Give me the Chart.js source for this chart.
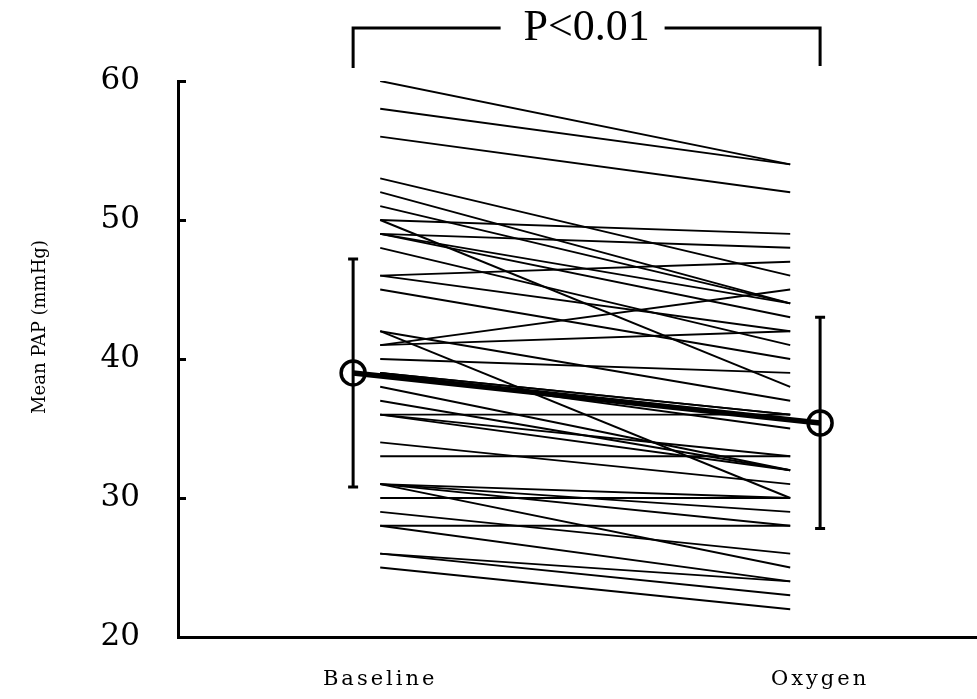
<!DOCTYPE html>
<html>
<head>
<meta charset="utf-8">
<script src="https://cdn.jsdelivr.net/npm/chart.js@4.4.1/dist/chart.umd.min.js"></script>
<style>
  body { margin: 0; background: #fff; }
  #wrap { width: 977px; height: 699px; }
</style>
</head>
<body>
<div id="wrap"><canvas id="pap" width="977" height="699"></canvas></div>
<script>
// categories / tick labels
const groupLabels = ["Baseline", "Oxygen"];
const yTicks = [20, 30, 40, 50, 60];
const pText = "P<0.01";
const yTitle = "Mean PAP (mmHg)";

// each patient: baseline -> oxygen (mmHg)
const baselinePAP = [60, 58, 56, 53, 52, 51, 50, 50, 49, 49, 49, 48, 46, 46, 45, 42, 42, 41, 41, 40, 39, 39, 39, 38, 37, 36, 36, 36, 34, 33, 31, 31, 31, 31, 30, 29, 28, 28, 26, 26, 25];
const oxygenPAP   = [54, 54, 52, 46, 44, 44, 49, 38, 48, 43, 44, 41, 47, 42, 40, 30, 37, 45, 42, 39, 36, 35, 36, 32, 32, 36, 33, 32, 31, 33, 30, 29, 28, 25, 30, 26, 28, 24, 24, 23, 22];

// group means and SD
const meanPAP = [39.0, 35.4];
const sdPAP = [8.2, 7.6];

// horizontal placement on the x scale
const meanX = [0, 1];
const pairX = [0.058, 0.936];
const labelX = [0.058, 1.0];

const datasets = baselinePAP.map((b, i) => ({
  data: [{ x: pairX[0], y: b }, { x: pairX[1], y: oxygenPAP[i] }],
  borderColor: "#000",
  borderWidth: 1.9,
  pointRadius: 0,
  tension: 0,
}));

datasets.push({
  data: [{ x: meanX[0], y: meanPAP[0] }, { x: meanX[1], y: meanPAP[1] }],
  borderColor: "#000",
  borderWidth: 5.5,
  pointRadius: 12,
  pointBorderWidth: 3.5,
  pointBorderColor: "#000",
  pointBackgroundColor: "rgba(0,0,0,0)",
  clip: false,
});

// letter-spaced group labels on the x axis only
const spacedLabels = {
  id: "spacedLabels",
  beforeDraw(chart) {
    const s = chart.scales.x;
    if (s._spaced) return;
    const orig = s.drawLabels;
    s.drawLabels = function (area) {
      this.ctx.save();
      this.ctx.letterSpacing = "3px";
      orig.call(this, area);
      this.ctx.restore();
    };
    s._spaced = true;
  },
};

const errorBars = {
  id: "errorBars",
  afterDatasetsDraw(chart) {
    const { ctx, scales: { x, y } } = chart;
    ctx.save();
    ctx.strokeStyle = "#000";
    ctx.lineWidth = 3;
    meanPAP.forEach((m, i) => {
      const px = x.getPixelForValue(meanX[i]);
      const top = y.getPixelForValue(m + sdPAP[i]);
      const bot = y.getPixelForValue(m - sdPAP[i]);
      ctx.beginPath();
      ctx.moveTo(px, top); ctx.lineTo(px, bot);
      ctx.moveTo(px - 5, top); ctx.lineTo(px + 5, top);
      ctx.moveTo(px - 5, bot); ctx.lineTo(px + 5, bot);
      ctx.stroke();
    });
    ctx.restore();
  },
};

const annotations = {
  id: "annotations",
  afterDraw(chart) {
    const { ctx, scales: { x } } = chart;
    const x0 = x.getPixelForValue(meanX[0]);
    const x1 = x.getPixelForValue(meanX[1]);
    const mid = (x0 + x1) / 2;
    ctx.save();
    ctx.strokeStyle = "#000";
    ctx.lineWidth = 3;
    ctx.beginPath();
    ctx.moveTo(x0, 68); ctx.lineTo(x0, 28); ctx.lineTo(mid - 86, 28);
    ctx.moveTo(mid + 78, 28); ctx.lineTo(x1, 28); ctx.lineTo(x1, 66);
    ctx.stroke();
    ctx.fillStyle = "#000";
    ctx.font = "44px 'Liberation Serif'";
    ctx.textAlign = "center";
    ctx.textBaseline = "middle";
    ctx.fillText(pText, mid, 28);

    ctx.translate(40, 327);
    ctx.rotate(-Math.PI / 2);
    ctx.font = "18px 'DejaVu Serif'";
    ctx.fillText(yTitle, 0, 0);
    ctx.restore();
  },
};

new Chart(document.getElementById("pap"), {
  type: "line",
  data: { datasets },
  options: {
    responsive: false,
    devicePixelRatio: 1,
    animation: false,
    layout: { autoPadding: false, padding: { top: 81, right: 0, left: 0, bottom: 0 } },
    plugins: { legend: { display: false }, tooltip: { enabled: false } },
    scales: {
      x: {
        type: "linear",
        min: -0.375,
        max: 1.336,
        afterBuildTicks: (s) => { s.ticks = labelX.map((v) => ({ value: v })); },
        afterFit: (s) => { s.height = 62; },
        ticks: {
          color: "#000",
          font: { family: "DejaVu Serif", size: 21 },
          padding: 30,
          maxRotation: 0,
          callback: (v) => groupLabels[labelX.indexOf(v)],
        },
        grid: { display: false, drawTicks: false },
        border: { display: true, color: "#000", width: 3 },
      },
      y: {
        min: 20,
        max: 60,
        afterBuildTicks: (s) => { s.ticks = yTicks.map((v) => ({ value: v })); },
        afterFit: (s) => {
          s.width = 178;
          s.paddingTop = 18;
          s.paddingBottom = 18;
        },
        ticks: {
          color: "#000",
          font: { family: "DejaVu Serif", size: 31 },
          padding: 46,
        },
        grid: { drawOnChartArea: false, tickLength: -8, lineWidth: 3, color: "#000" },
        border: { display: true, color: "#000", width: 3 },
      },
    },
  },
  plugins: [spacedLabels, errorBars, annotations],
});
</script>
</body>
</html>
